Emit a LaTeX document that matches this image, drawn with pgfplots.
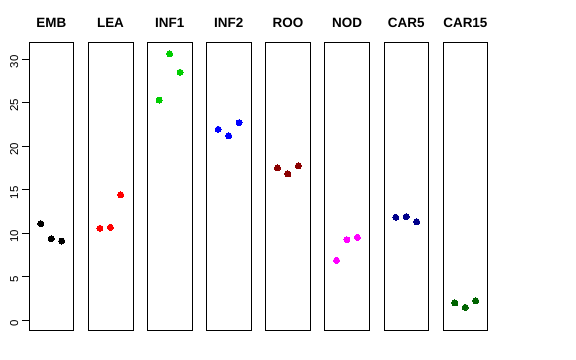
\documentclass[border=0pt]{standalone}
\usepackage{pgfplots}
\pgfplotsset{compat=1.18}
\usepackage{fontspec}
\setmainfont{Liberation Sans}
\definecolor{cgreen}{HTML}{00CD00}
\definecolor{cdarkred}{HTML}{8B0000}
\definecolor{cmagenta}{HTML}{FF00FF}
\definecolor{cdarkblue}{HTML}{00008B}
\definecolor{cdarkgreen}{HTML}{006400}
\pgfplotsset{
  panel/.style={
    scale only axis, width=44.8bp, height=288bp, anchor=south west,
    xmin=0, xmax=1, ymin=-1.19, ymax=31.87,
    xtick=\empty, ytick=\empty,
    axis line style={line width=0.8bp, black},
    title style={anchor=base, at={(0.5,1)}, yshift=9.5bp, font=\bfseries\fontsize{13.5}{13.5}\selectfont},
  },
  pts/.style={only marks, color=#1, mark=*, mark size=3bp, mark options={draw=#1, fill=#1, line width=0pt}},
}
\begin{document}
\begin{tikzpicture}
\path[use as bounding box] (0,0) rectangle (576bp,360bp);
\begin{axis}[panel, at={(29bp,29.3bp)}, title=EMB,
  ytick={0,5,10,15,20,25,30}, ytick pos=left, tick align=outside,
  major tick length=7.2bp, tick style={line width=0.8bp, black},
  yticklabel style={rotate=90, anchor=south, xshift=-3bp, font=\fontsize{11.5}{11.5}\selectfont},
  /pgf/number format/assume math mode=true]
\addplot[pts=black] coordinates {(0.264,11.09)(0.497,9.37)(0.73,9.10)};
\end{axis}
\begin{axis}[panel, at={(88.1bp,29.3bp)}, title=LEA]
\addplot[pts=red] coordinates {(0.264,10.56)(0.497,10.68)(0.73,14.39)};
\end{axis}
\begin{axis}[panel, at={(147.3bp,29.3bp)}, title=INF1]
\addplot[pts=cgreen] coordinates {(0.264,25.29)(0.497,30.60)(0.73,28.47)};
\end{axis}
\begin{axis}[panel, at={(206.4bp,29.3bp)}, title=INF2]
\addplot[pts=blue] coordinates {(0.264,21.93)(0.497,21.19)(0.73,22.69)};
\end{axis}
\begin{axis}[panel, at={(265.6bp,29.3bp)}, title=ROO]
\addplot[pts=cdarkred] coordinates {(0.264,17.49)(0.497,16.80)(0.73,17.72)};
\end{axis}
\begin{axis}[panel, at={(324.7bp,29.3bp)}, title=NOD]
\addplot[pts=cmagenta] coordinates {(0.264,6.89)(0.497,9.25)(0.73,9.53)};
\end{axis}
\begin{axis}[panel, at={(383.9bp,29.3bp)}, title=CAR5]
\addplot[pts=cdarkblue] coordinates {(0.264,11.83)(0.497,11.90)(0.73,11.32)};
\end{axis}
\begin{axis}[panel, at={(443bp,29.3bp)}, title=CAR15]
\addplot[pts=cdarkgreen] coordinates {(0.264,1.99)(0.497,1.49)(0.73,2.25)};
\end{axis}
\end{tikzpicture}
\end{document}
